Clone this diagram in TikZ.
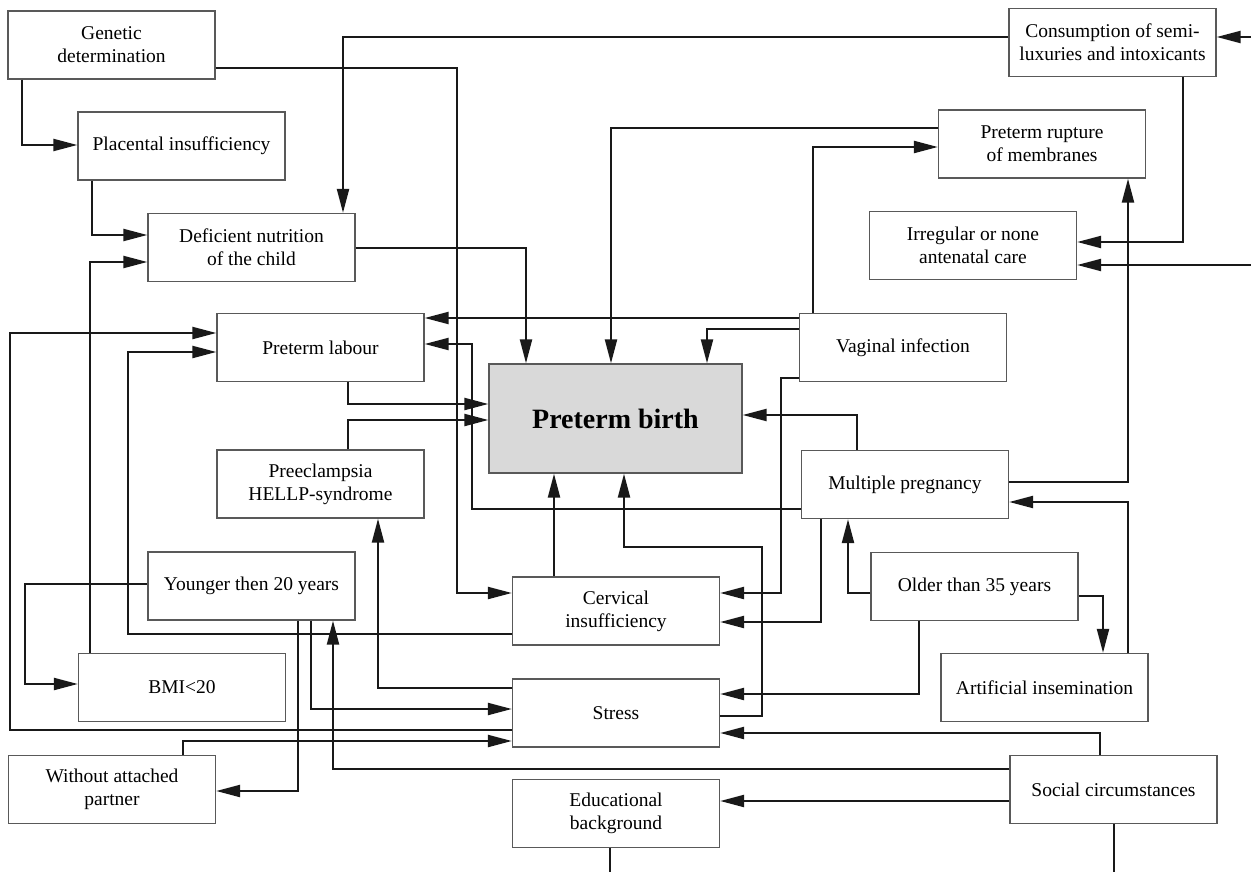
\documentclass[tikz,border=0pt]{standalone}
\usepackage{fontspec}
\setmainfont{Liberation Serif}
\usetikzlibrary{arrows.meta}
\begin{document}
\begin{tikzpicture}[x=1pt,y=-1pt,
  box/.style={draw=black!65,line width=1.3pt,fill=white,align=center,
    minimum width=207pt,minimum height=68pt,inner sep=0pt,
    font=\fontsize{19.5}{23}\selectfont},
  conn/.style={line width=2.2pt,draw=black!90},
  arr/.style={conn,-{Triangle[length=24pt,width=12pt]}}]
\useasboundingbox (0,0) rectangle (1251,872);
% nodes
\node[box] (gen) at (111.5,45) {Genetic\\determination};
\node[box] (plac) at (181.5,146) {Placental insufficiency};
\node[box] (def) at (251.5,247.5) {Deficient nutrition\\of the child};
\node[box] (cons) at (1112.5,42.5) {Consumption of semi-\\luxuries and intoxicants};
\node[box] (rupt) at (1042,144) {Preterm rupture\\of membranes};
\node[box] (irr) at (973,245.5) {Irregular or none\\antenatal care};
\node[box] (lab) at (320.5,347.5) {Preterm labour};
\node[box,fill=black!15,minimum width=253pt,minimum height=109pt,
  font=\fontsize{28}{32}\selectfont\bfseries] (birth) at (615.5,418.5) {Preterm birth};
\node[box] (vag) at (903,347.5) {Vaginal infection};
\node[box] (pre) at (320.5,484) {Preeclampsia\\HELLP-syndrome};
\node[box] (mult) at (905,484.5) {Multiple pregnancy};
\node[box] (young) at (251.5,586) {Younger then 20 years};
\node[box] (cerv) at (616,611) {Cervical\\insufficiency};
\node[box] (older) at (974.5,586.5) {Older than 35 years};
\node[box] (bmi) at (182,687.5) {BMI<20};
\node[box] (stress) at (616,713) {Stress};
\node[box] (art) at (1044.5,687.5) {Artificial insemination};
\node[box] (without) at (112,789.5) {Without attached\\partner};
\node[box] (edu) at (616,813.5) {Educational\\background};
\node[box] (social) at (1113.5,789.5) {Social circumstances};
% free ends
\coordinate (inG) at (1251,37);
\coordinate (inH) at (1251,265);
\coordinate (outE) at (610,872);
\coordinate (outS) at (1114,872);
% connectors
\draw[arr] (gen.south -| 22,0) |- (plac.west |- 0,145);
\draw[arr] (plac.south -| 92,0) |- (def.west |- 0,235);
\draw[arr] (bmi.north -| 90,0) |- (def.west |- 0,262);
\draw[arr] (gen.east |- 0,68) -| (457,593) -- (cerv.west |- 0,593);
\draw[arr] (cons.west |- 0,37) -| (def.north -| 343,0);
\draw[arr] (cons.south -| 1183,0) |- (irr.east |- 0,242);
\draw[arr] (inG) -- (cons.east |- inG);
\draw[arr] (inH) -- (irr.east |- inH);
\draw[conn] (edu.south -| outE) -- (outE);
\draw[conn] (social.south -| outS) -- (outS);
\draw[arr] (def.east |- 0,248) -| (birth.north -| 526,0);
\draw[arr] (rupt.west |- 0,128) -| (birth.north -| 611,0);
\draw[arr] (vag.north -| 813,0) |- (rupt.west |- 0,147);
\draw[arr] (vag.west |- 0,318) -- (lab.east |- 0,318);
\draw[arr] (vag.west |- 0,329) -| (birth.north -| 707,0);
\draw[arr] (vag.west |- 0,378) -| (781,593) -- (cerv.east |- 0,593);
\draw[arr] (mult.north -| 857,0) |- (birth.east |- 0,415);
\draw[arr] (mult.west |- 0,509) -| (472,344) -- (lab.east |- 0,344);
\draw[arr] (mult.south -| 821,0) |- (cerv.east |- 0,622);
\draw[arr] (mult.east |- 0,482) -| (rupt.south -| 1128,0);
\draw[arr] (art.north -| 1128,0) |- (mult.east |- 0,502);
\draw[arr] (older.west |- 0,593) -| (mult.south -| 848,0);
\draw[arr] (older.east |- 0,596) -| (art.north -| 1103,0);
\draw[arr] (older.south -| 919,0) |- (stress.east |- 0,694);
\draw[arr] (cerv.north -| 554,0) -- (birth.south -| 554,0);
\draw[arr] (stress.east |- 0,716) -| (762,547) -| (birth.south -| 624,0);
\draw[arr] (social.north -| 1100,0) |- (stress.east |- 0,733);
\draw[arr] (social.west |- 0,801) -- (edu.east |- 0,801);
\draw[arr] (social.west |- 0,769) -| (young.south -| 333,0);
\draw[arr] (cerv.west |- 0,634) -| (128,352) -- (lab.west |- 0,352);
\draw[arr] (stress.west |- 0,730) -| (10,333) -- (lab.west |- 0,333);
\draw[arr] (stress.west |- 0,688) -| (pre.south -| 378,0);
\draw[arr] (young.south -| 311,0) |- (stress.west |- 0,709);
\draw[arr] (without.north -| 183,0) |- (stress.west |- 0,741);
\draw[arr] (young.south -| 298,0) |- (without.east |- 0,791);
\draw[arr] (young.west |- 0,584) -| (25,684) -- (bmi.west |- 0,684);
\draw[arr] (lab.south -| 348,0) |- (birth.west |- 0,404);
\draw[arr] (pre.north -| 348,0) |- (birth.west |- 0,420);
\end{tikzpicture}
\end{document}
